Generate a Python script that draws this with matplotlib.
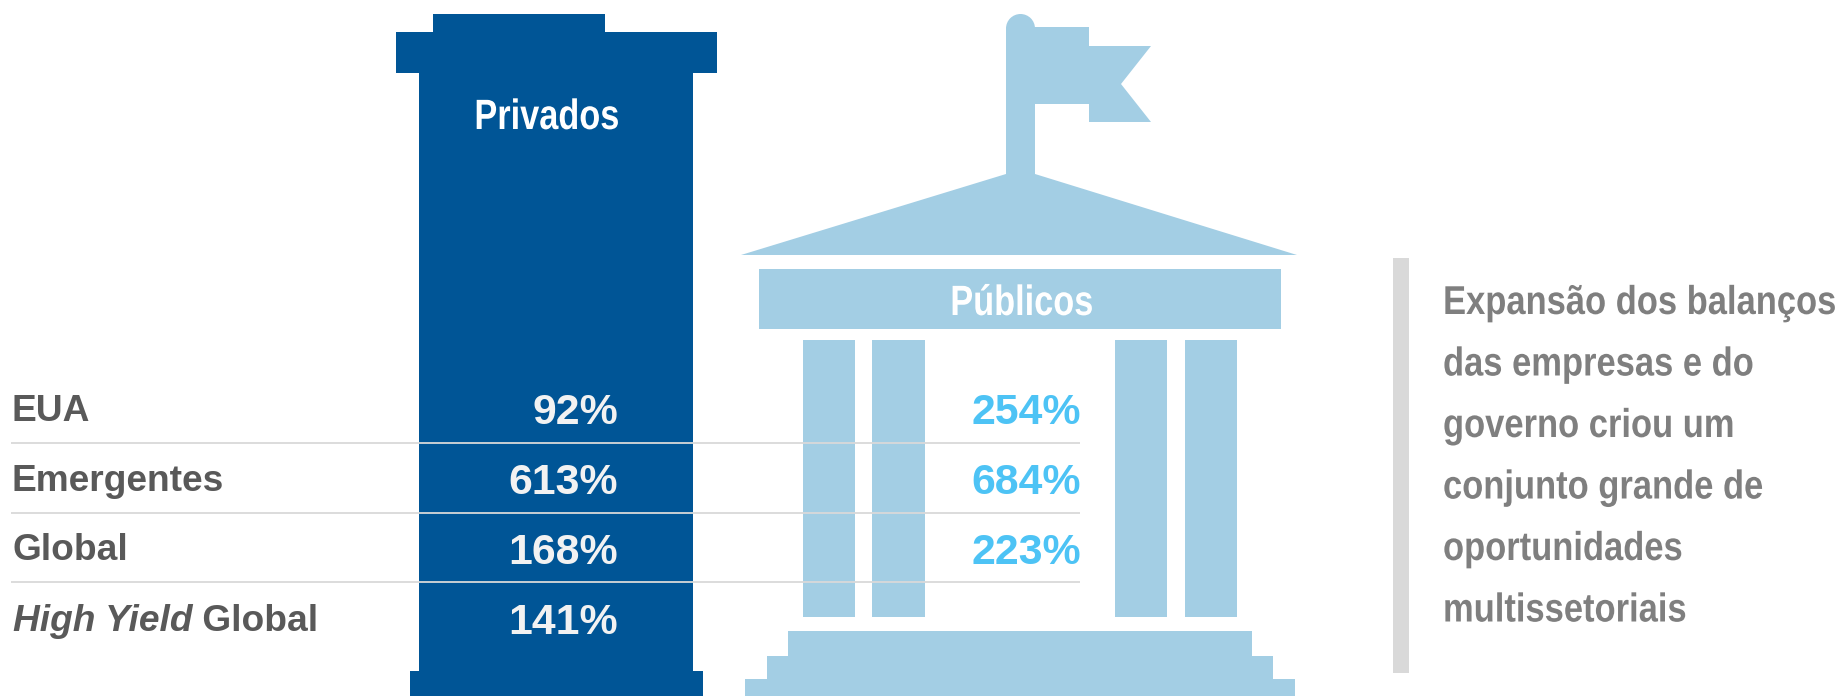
import matplotlib
matplotlib.use('Agg')
import matplotlib.pyplot as plt
from matplotlib.patches import Polygon, Rectangle, Circle
from matplotlib.patheffects import AbstractPathEffect
from matplotlib.text import Text
from matplotlib.transforms import Affine2D, Bbox

# Dados
categorias = ['EUA', 'Emergentes', 'Global']
privados = ['92%', '613%', '168%', '141%']
publicos = ['254%', '684%', '223%']
texto_lado = ['Expansão dos balanços', 'das empresas e do', 'governo criou um',
              'conjunto grande de', 'oportunidades', 'multissetoriais']

AZUL = '#005596'
CLARO = '#A3CEE4'
CIANO = '#4DC3F5'
CINZA = '#595959'
CINZA2 = '#7F7F7F'
LINHA = '#D9D9D9'
FONTE = ['Liberation Sans', 'DejaVu Sans']


# Nao ha fonte "narrow" instalada: aperta o texto na horizontal ao desenhar
class Aperto(AbstractPathEffect):
    def __init__(self, sx, x0):
        super().__init__()
        self.sx, self.x0 = sx, x0

    def draw_path(self, renderer, gc, tpath, affine, rgbFace=None):
        t = affine + Affine2D().translate(-self.x0, 0).scale(self.sx, 1).translate(self.x0, 0)
        renderer.draw_path(gc, tpath, t, rgbFace)


class TextoEstreito(Text):
    def __init__(self, x, y, s, sx, **kw):
        super().__init__(x, y, s, **kw)
        self.sx, self.x0 = sx, x
        self.set_path_effects([Aperto(sx, x)])

    def get_window_extent(self, renderer=None, dpi=None):
        b = super().get_window_extent(renderer, dpi)
        return Bbox([[self.x0 + (b.x0 - self.x0) * self.sx, b.y0], [self.x0 + (b.x1 - self.x0) * self.sx, b.y1]])


fig = plt.figure(figsize=(18.43, 6.96), dpi=100)
ax = fig.add_axes([0, 0, 1, 1])
ax.set_xlim(0, 1843)
ax.set_ylim(696, 0)
ax.axis('off')

# Coluna dos privados
coluna = [(433, 14), (605, 14), (605, 32), (717, 32), (717, 73), (693, 73), (693, 671),
          (703, 671), (703, 696), (410, 696), (410, 671), (419, 671), (419, 73),
          (396, 73), (396, 32), (433, 32)]
ax.add_patch(Polygon(coluna, closed=True, fc=AZUL, ec='none'))

# Predio dos publicos
bandeira = [(1006, 174), (1006, 28), (1035, 27), (1089, 27), (1089, 46), (1151, 46), (1121, 84),
            (1151, 122), (1089, 122), (1089, 104), (1035, 104), (1035, 174)]
ax.add_patch(Polygon(bandeira, closed=True, fc=CLARO, ec='none'))
ax.add_patch(Circle((1020.5, 28.5), 14.5, fc=CLARO, ec='none'))
ax.add_patch(Polygon([(741, 255), (1006, 174), (1035, 174), (1297, 255)], closed=True, fc=CLARO, ec='none'))
ax.add_patch(Rectangle((759, 269), 522, 60, fc=CLARO, ec='none'))
for x0, x1 in [(803, 855), (872, 925), (1115, 1167), (1185, 1237)]:
    ax.add_patch(Rectangle((x0, 340), x1 - x0, 277, fc=CLARO, ec='none'))
base = [(788, 631), (1252, 631), (1252, 656), (1273, 656), (1273, 679), (1295, 679), (1295, 696),
        (745, 696), (745, 679), (767, 679), (767, 656), (788, 656)]
ax.add_patch(Polygon(base, closed=True, fc=CLARO, ec='none'))

ax.add_artist(TextoEstreito(547, 129, 'Privados', 0.81, color='white', fontsize=30.5, fontweight='bold',
                            family=FONTE, ha='center', va='baseline'))
ax.add_artist(TextoEstreito(1022, 315, 'Públicos', 0.81, color='white', fontsize=30.5, fontweight='bold',
                            family=FONTE, ha='center', va='baseline'))

# Tabela
y_nomes = [421, 491, 560, 631]
y_valores = [424, 494, 564, 634]
for y in [443, 513, 582]:
    ax.plot([11, 1080], [y, y], color=LINHA, lw=1.3, solid_capstyle='butt')

for nome, y in zip(categorias, y_nomes):
    ax.text(12, y, nome, color=CINZA, fontsize=26.7, fontweight='bold', family=FONTE, ha='left', va='baseline')
t = ax.text(13, y_nomes[3], 'High Yield', color=CINZA, fontsize=26.7, fontweight='bold', style='italic',
            family=FONTE, ha='left', va='baseline')
ax.annotate(' Global', xy=(1, 0), xycoords=t, color=CINZA, fontsize=26.7, fontweight='bold', family=FONTE,
            ha='left', va='bottom')
for v, y in zip(privados, y_valores):
    ax.text(618, y, v, color='#F2F2F2', fontsize=30.8, fontweight='bold', family=FONTE, ha='right', va='baseline')
for v, y in zip(publicos, y_valores):
    ax.text(1081, y, v, color=CIANO, fontsize=30.8, fontweight='bold', family=FONTE, ha='right', va='baseline')

# Texto lateral (a primeira linha e ancorada a direita para caber na figura)
ax.add_patch(Rectangle((1393, 258), 16, 415, fc=LINHA, ec='none'))
for i, s in enumerate(texto_lado):
    x, ha = (1836, 'right') if i == 0 else (1443, 'left')
    ax.add_artist(TextoEstreito(x, 314 + i * 61.5, s, 0.857, color=CINZA2, fontsize=29, fontweight='bold',
                                family=FONTE, ha=ha, va='baseline'))

fig.savefig('out.png', dpi=100)
